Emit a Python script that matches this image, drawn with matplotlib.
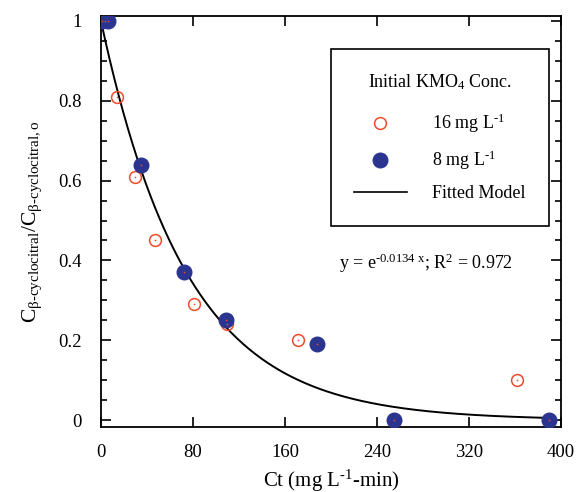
import numpy as np
import matplotlib
matplotlib.use('Agg')
import matplotlib.pyplot as plt
from matplotlib.lines import Line2D
from matplotlib.ticker import MultipleLocator

plt.rcParams['font.family'] = ['Liberation Serif', 'DejaVu Serif']
plt.rcParams['mathtext.fontset'] = 'custom'
plt.rcParams['mathtext.rm'] = 'Liberation Serif'
plt.rcParams['mathtext.it'] = 'Liberation Serif'

# data
ct_16 = [3.5, 14, 30, 47, 81, 110, 171, 362]
c_16 = [1.0, 0.81, 0.61, 0.45, 0.29, 0.24, 0.20, 0.10]
ct_8 = [1, 6, 35, 72, 109, 188, 255, 390]
c_8 = [1.0, 1.0, 0.64, 0.37, 0.25, 0.19, 0.0, 0.0]
k_fit = 0.0134
x_ticks = [0, 80, 160, 240, 320, 400]
y_ticks = [0, 0.2, 0.4, 0.6, 0.8, 1]

red = '#ef4b2b'
navy = '#2b3590'

fig = plt.figure(figsize=(5.77, 4.92), dpi=100)
ax = fig.add_axes([0.175, 0.132, 0.797, 0.8355])

# fitted model
xf = np.linspace(0, 390, 300)
ax.plot(xf, np.exp(-k_fit * xf), color='black', lw=1.4, zorder=2)

ax.plot(ct_16, c_16, ls='none', marker='o', ms=8.5, mfc='none', mec=red, mew=1.1, zorder=3)
ax.plot(ct_8, c_8, ls='none', marker='o', ms=10.5, mfc=navy, mec=navy, zorder=4)
# small red centre dots
ax.plot(ct_16 + ct_8, c_16 + c_8, ls='none', marker='o', ms=1.2, color=red, mew=0, zorder=5)

ax.set_xlim(0, 400)
ax.set_ylim(-0.0175, 1.0125)
ax.set_xticks(x_ticks)
ax.set_xticklabels([str(t) for t in x_ticks])
ax.set_yticks(y_ticks)
ax.set_yticklabels(['0', '0.2', '0.4', '0.6', '0.8', '1'])
ax.yaxis.set_minor_locator(MultipleLocator(0.05))
ax.tick_params(which='both', direction='in', top=True, right=True, labelsize=13.5)
ax.tick_params(axis='y', pad=14)
ax.tick_params(axis='x', pad=12)
ax.tick_params(which='major', length=7, width=1.2)
ax.tick_params(which='minor', length=4, width=1.2)
for s in ax.spines.values():
    s.set_linewidth(1.3)

ax.set_xlabel('Ct (mg L$^{\\mathregular{\\text{-}1}}$-min)', fontsize=15, labelpad=5)
ax.set_ylabel('C$_{\\mathregular{\u03b2\\text{-}cyclocitral}}$/C$_{\\mathregular{\u03b2\\text{-}cyclocitral,o}}$',
              fontsize=15.5, labelpad=10)

ax.text(283, 0.393, 'y = e$^{\\mathregular{\\text{-}0.0134\\ x}}$; R$^{\\mathregular{2}}$ = 0.972',
        fontsize=13, ha='center', va='center')

handles = [Line2D([], [], ls='none', marker='o', ms=8.5, mfc='none', mec=red, mew=1.1),
           Line2D([], [], ls='none', marker='o', ms=10.5, mfc=navy, mec=navy),
           Line2D([], [], color='black', lw=1.2)]
labels = ['16 mg L$^{\\mathregular{\\text{-}1}}$', '8 mg L$^{\\mathregular{\\text{-}1}}$', 'Fitted Model']
leg = ax.legend(handles, labels, title='Initial KMO$_{\\mathregular{4}}$ Conc.',
                loc='upper right', bbox_to_anchor=(0.974, 0.92), fontsize=13,
                title_fontsize=13, frameon=True, fancybox=False, edgecolor='black',
                framealpha=1, borderpad=1.3, labelspacing=0.75, handlelength=2.9,
                handletextpad=1.4, borderaxespad=0)
leg.get_frame().set_linewidth(1.2)
leg._legend_box.sep = 14

fig.savefig('out.png', dpi=100)
